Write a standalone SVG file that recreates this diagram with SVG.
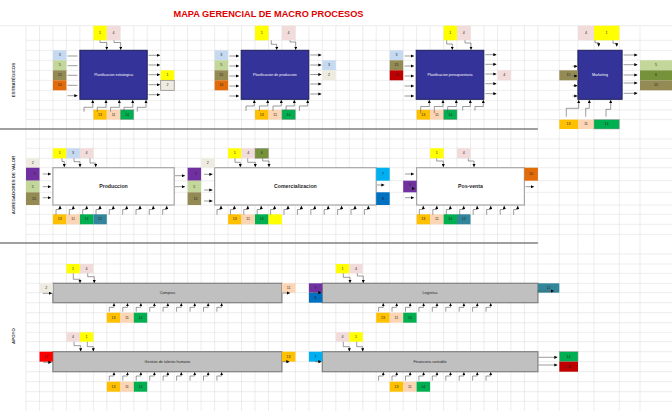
<svg xmlns="http://www.w3.org/2000/svg" width="672" height="411" viewBox="0 0 672 411">
<defs>
<style>
.gr{stroke:#dadada;stroke-width:.5;fill:none}
.sep{stroke:#7f7f7f;stroke-width:1.6}
.k1{fill:#ffff00}.k2{fill:#eeece1}.k3{fill:#c5d9f1}.k4{fill:#f2dcdb}.k5{fill:#c4d79b}.k6{fill:#76933c}.k7{fill:#00b0f0}.k8{fill:#0070c0}.k9{fill:#7030a0}.k10{fill:#e26b0a}.k11{fill:#fcd5b4}.k12{fill:#31869b}.k13{fill:#ffc000}.k14{fill:#00b050}.k15{fill:#948a54}.k16{fill:#c00000}.k17{fill:#ff0000}
.bd{stroke:#9a9a9a;stroke-width:.5}
text{font-family:"Liberation Sans",Arial,sans-serif}
.n{font-size:3.6px;fill:#262626;text-anchor:middle;dominant-baseline:central}
.cn{fill:none;stroke:#595959;stroke-width:.6;marker-end:url(#ah)}
.nv{fill:#333399;stroke:#1f1f5c;stroke-width:1}
.wh{fill:#fff;stroke:#a6a6a6;stroke-width:1.2}
.gy{fill:#c0c0c0;stroke:#808080;stroke-width:1.2}
.lw{font-size:3.6px;fill:#fff;text-anchor:middle;dominant-baseline:central}
.lk{font-size:5.2px;fill:#262626;text-anchor:middle;dominant-baseline:central;font-weight:bold}
.ls{font-size:3.8px;fill:#262626;text-anchor:middle;dominant-baseline:central}
.sec{font-size:4.4px;font-weight:bold;fill:#404040;text-anchor:middle}
.ttl{font-size:8.8px;font-weight:bold;fill:#e00000;text-anchor:middle}
</style>
<marker id="ah" viewBox="0 0 6 6" markerWidth="3.2" markerHeight="3.2" refX="6" refY="3" orient="auto" markerUnits="userSpaceOnUse"><path d="M0,0L6,3L0,6z" fill="#000"/></marker>
</defs>
<rect width="672" height="411" fill="#fff"/>
<g id="grid">
<path class="gr" d="M26,25.7V411M39.5,25.7V411M52.9,25.7V411M66.4,25.7V411M79.9,25.7V411M93.4,25.7V411M106.8,25.7V411M120.3,25.7V411M133.8,25.7V411M147.2,25.7V411M160.7,25.7V411M174.2,25.7V411M187.6,25.7V411M201.1,25.7V411M214.6,25.7V411M228.1,25.7V411M241.5,25.7V411M255,25.7V411M268.5,25.7V411M281.9,25.7V411M295.4,25.7V411M308.9,25.7V411M322.3,25.7V411M335.8,25.7V411M349.3,25.7V411M362.8,25.7V411M376.2,25.7V411M389.7,25.7V411M403.2,25.7V411M416.6,25.7V411M430.1,25.7V411M443.6,25.7V411M457,25.7V411M470.5,25.7V411M484,25.7V411M497.5,25.7V411M510.9,25.7V411M524.4,25.7V411M537.9,25.7V411M559.3,25.7V411M578,25.7V411M594,25.7V411M619.3,25.7V411M640,25.7V411"/>
<path class="gr" d="M0,25.7H672M26,40.3H672M26,50.3H672M26,60.3H672M26,70.3H672M26,80.3H672M26,90.3H672M26,100.3H672M26,109.8H672M26,119.6H672M26,139H672M26,148.3H672M26,158.3H672M26,167.7H672M26,180.7H672M26,192.3H672M26,205H672M26,214.3H672M26,224.3H672M26,234.3H672M26,254H672M26,264H672M26,273.3H672M26,283.3H672M26,292.7H672M26,302.7H672M26,312.7H672M26,322.7H672M26,332.3H672M26,341.7H672M26,351.7H672M26,361.7H672M26,371.7H672M26,381.7H672M26,391.7H672M26,401.3H672"/>
</g>
<g id="separators">
<line class="sep" x1="0" y1="129" x2="537.9" y2="129"/>
<line class="sep" x1="0" y1="243" x2="537.9" y2="243"/>
</g>
<text class="ttl" x="268.5" y="16.5" textLength="190" lengthAdjust="spacingAndGlyphs">MAPA GERENCIAL DE MACRO PROCESOS</text>
<text class="sec" transform="translate(15,80) rotate(-90)">ESTRATÉGICOS</text>
<text class="sec" transform="translate(15,185) rotate(-90)">AGREGADORES DE VALOR</text>
<text class="sec" transform="translate(15,336) rotate(-90)">APOYO</text>

<!-- Planificacion estrategica -->
<g id="p-estrategica">
<rect class="nv" x="79.9" y="50.3" width="67.3" height="49"/>
<text class="lw" x="113.6" y="75">Planificacion estrategica</text>
</g>
<g id="t-estrategica">
<rect class="k1" x="93.4" y="25.7" width="13.4" height="14.6"/><text class="n" x="100.1" y="33">1</text>
<rect class="k4" x="106.8" y="25.7" width="13.5" height="14.6"/><text class="n" x="113.5" y="33">4</text>
<rect class="k3" x="52.9" y="50.3" width="13.5" height="10"/><text class="n" x="59.7" y="55.3">3</text>
<rect class="k5" x="52.9" y="60.3" width="13.5" height="10"/><text class="n" x="59.7" y="65.3">5</text>
<rect class="k15" x="52.9" y="70.3" width="13.5" height="10"/><text class="n" x="59.7" y="75.3">15</text>
<rect class="k10" x="52.9" y="80.3" width="13.5" height="10"/><text class="n" x="59.7" y="85.3">10</text>
<rect class="k1" x="160.7" y="70.3" width="13.5" height="10"/><text class="n" x="167.4" y="75.3">1</text>
<rect class="k2" x="160.7" y="80.3" width="13.5" height="10" stroke="#808080" stroke-width=".7"/><text class="n" x="167.4" y="85.3">2</text>
<rect class="k13" x="93.4" y="109.8" width="13.4" height="9.8"/><text class="n" x="100.1" y="114.7">13</text>
<rect class="k11" x="106.8" y="109.8" width="13.5" height="9.8"/><text class="n" x="113.5" y="114.7">11</text>
<rect class="k14 bd" x="120.3" y="109.8" width="13.5" height="9.8"/><text class="n" x="127" y="114.7">14</text>
</g>

<!-- Planificacion de produccion -->
<g id="p-plan-produccion">
<rect class="nv" x="241.2" y="50.3" width="67.6" height="49"/>
<text class="lw" x="275" y="75">Planificacion de produccion</text>
</g>
<g id="t-plan-produccion">
<rect class="k1" x="255" y="25.7" width="13.5" height="14.6"/><text class="n" x="261.7" y="33">1</text>
<rect class="k4" x="281.9" y="25.7" width="13.5" height="14.6"/><text class="n" x="288.6" y="33">4</text>
<rect class="k3" x="214.6" y="50.3" width="13.5" height="10"/><text class="n" x="221.3" y="55.3">3</text>
<rect class="k5" x="214.6" y="60.3" width="13.5" height="10"/><text class="n" x="221.3" y="65.3">5</text>
<rect class="k15" x="214.6" y="70.3" width="13.5" height="10"/><text class="n" x="221.3" y="75.3">15</text>
<rect class="k10" x="214.6" y="80.3" width="13.5" height="10"/><text class="n" x="221.3" y="85.3">10</text>
<rect class="k3" x="322.3" y="60.3" width="13.5" height="10"/><text class="n" x="329" y="65.3">3</text>
<rect class="k2" x="322.3" y="70.3" width="13.5" height="10"/><text class="n" x="329" y="75.3">2</text>
<rect class="k13" x="255" y="109.8" width="13.5" height="9.8"/><text class="n" x="261.7" y="114.7">13</text>
<rect class="k11" x="268.5" y="109.8" width="13.4" height="9.8"/><text class="n" x="275.2" y="114.7">11</text>
<rect class="k14 bd" x="281.9" y="109.8" width="13.5" height="9.8"/><text class="n" x="288.6" y="114.7">14</text>
</g>

<!-- Planificacion presupuestaria -->
<g id="p-presupuestaria">
<rect class="nv" x="416.2" y="50.3" width="67.6" height="49"/>
<text class="lw" x="450" y="75">Planificacion presupuestaria</text>
</g>
<g id="t-presupuestaria">
<rect class="k1" x="443.6" y="25.7" width="13.4" height="14.6"/><text class="n" x="450.3" y="33">1</text>
<rect class="k4" x="457" y="25.7" width="13.5" height="14.6"/><text class="n" x="463.7" y="33">4</text>
<rect class="k3" x="389.7" y="50.3" width="13.5" height="10"/><text class="n" x="396.4" y="55.3">3</text>
<rect class="k15" x="389.7" y="60.3" width="13.5" height="10"/><text class="n" x="396.4" y="65.3">15</text>
<rect class="k16" x="389.7" y="70.3" width="13.5" height="10"/><text class="n" x="396.4" y="75.3">16</text>
<rect class="k4" x="497.5" y="70.3" width="13.4" height="10"/><text class="n" x="504.2" y="75.3">4</text>
<rect class="k13" x="416.6" y="109.8" width="13.5" height="9.8"/><text class="n" x="423.3" y="114.7">13</text>
<rect class="k11" x="430.1" y="109.8" width="13.5" height="9.8"/><text class="n" x="436.8" y="114.7">11</text>
<rect class="k14 bd" x="443.6" y="109.8" width="13.4" height="9.8"/><text class="n" x="450.3" y="114.7">14</text>
</g>

<!-- Marketing -->
<g id="p-marketing">
<rect class="nv" x="577.9" y="50.3" width="44.2" height="49"/>
<text class="lw" x="600" y="75">Marketing</text>
</g>
<g id="t-marketing">
<rect class="k4" x="578" y="25.7" width="16" height="14.6"/><text class="n" x="586" y="33">4</text>
<rect class="k1" x="594" y="25.7" width="25.3" height="14.6"/><text class="n" x="606.6" y="33">1</text>
<rect class="k15" x="559.3" y="70.3" width="18.7" height="10"/><text class="n" x="568.6" y="75.3">15</text>
<rect class="k5" x="640" y="60.3" width="32" height="10"/><text class="n" x="656" y="65.3">5</text>
<rect class="k6" x="640" y="70.3" width="32" height="10"/><text class="n" x="656" y="75.3">6</text>
<rect class="k15" x="640" y="80.3" width="32" height="10"/><text class="n" x="656" y="85.3">15</text>
<rect class="k13" x="559.3" y="119.6" width="18.7" height="9.4"/><text class="n" x="568.6" y="124.3">13</text>
<rect class="k11" x="578" y="119.6" width="16" height="9.4"/><text class="n" x="586" y="124.3">11</text>
<rect class="k14 bd" x="594" y="119.6" width="25.3" height="9.4"/><text class="n" x="606.6" y="124.3">14</text>
</g>

<!-- Produccion -->
<g id="p-produccion">
<rect class="wh" x="52.9" y="167.7" width="121.3" height="37.3"/>
<text class="lk" x="113.5" y="186.3">Produccion</text>
</g>
<g id="t-produccion">
<rect class="k1" x="52.9" y="148.3" width="13.5" height="10"/><text class="n" x="59.7" y="153.3">1</text>
<rect class="k3" x="66.4" y="148.3" width="13.5" height="10"/><text class="n" x="73.1" y="153.3">3</text>
<rect class="k4" x="79.9" y="148.3" width="13.5" height="10"/><text class="n" x="86.6" y="153.3">4</text>
<rect class="k2" x="26" y="158.3" width="13.5" height="9.4"/><text class="n" x="32.7" y="163">2</text>
<rect class="k9" x="26" y="167.7" width="13.5" height="13"/><text class="n" x="34.5" y="174.2">9</text>
<rect class="k5" x="26" y="180.7" width="13.5" height="11.6"/><text class="n" x="32.7" y="186.5">5</text>
<rect class="k15" x="26" y="192.3" width="13.5" height="12.7"/><text class="n" x="34" y="198.6">15</text>
<rect class="k13" x="52.9" y="214.3" width="13.5" height="10"/><text class="n" x="59.7" y="219.3">13</text>
<rect class="k11" x="66.4" y="214.3" width="13.5" height="10"/><text class="n" x="73.1" y="219.3">11</text>
<rect class="k14" x="79.9" y="214.3" width="13.5" height="10"/><text class="n" x="86.6" y="219.3">14</text>
<rect class="k12" x="93.4" y="214.3" width="13.4" height="10"/><text class="n" x="100.1" y="219.3">12</text>
</g>

<!-- Comercializacion -->
<g id="p-comercializacion">
<rect class="wh" x="214.6" y="167.7" width="161.6" height="37.3"/>
<text class="lk" x="295.4" y="186.3">Comercializacion</text>
</g>
<g id="t-comercializacion">
<rect class="k1" x="228.1" y="148.3" width="13.4" height="10"/><text class="n" x="234.8" y="153.3">1</text>
<rect class="k4" x="241.5" y="148.3" width="13.5" height="10"/><text class="n" x="248.2" y="153.3">4</text>
<rect class="k6 bd" x="255" y="148.3" width="13.5" height="10"/><text class="n" x="261.7" y="153.3">6</text>
<rect class="k2" x="201.1" y="158.3" width="13.5" height="9.4"/><text class="n" x="207.8" y="163">2</text>
<rect class="k9" x="187.6" y="167.7" width="13.5" height="13"/><text class="n" x="196" y="174.2">9</text>
<rect class="k5" x="187.6" y="180.7" width="13.5" height="11.6"/><text class="n" x="194.3" y="186.5">5</text>
<rect class="k15" x="187.6" y="192.3" width="13.5" height="12.7"/><text class="n" x="195.5" y="198.6">15</text>
<rect class="k7" x="376.2" y="167.7" width="13.5" height="13"/><text class="n" x="382.9" y="174.2">7</text>
<rect class="k8" x="376.2" y="192.3" width="13.5" height="12.7"/><text class="n" x="382.9" y="198.6">8</text>
<rect class="k13" x="228.1" y="214.3" width="13.4" height="10"/><text class="n" x="234.8" y="219.3">13</text>
<rect class="k11" x="241.5" y="214.3" width="13.5" height="10"/><text class="n" x="248.2" y="219.3">11</text>
<rect class="k14" x="255" y="214.3" width="13.5" height="10"/><text class="n" x="261.7" y="219.3">14</text>
<rect class="k1" x="268.5" y="214.3" width="13.4" height="10"/>
</g>

<!-- Pos-venta -->
<g id="p-posventa">
<rect class="wh" x="416.6" y="167.7" width="107.8" height="37.3"/>
<text class="lk" x="470.5" y="186.3">Pos-venta</text>
</g>
<g id="t-posventa">
<rect class="k1" x="430.1" y="148.3" width="13.5" height="10"/><text class="n" x="436.8" y="153.3">1</text>
<rect class="k4" x="457" y="148.3" width="13.5" height="10"/><text class="n" x="463.7" y="153.3">4</text>
<rect class="k9" x="403.2" y="180.7" width="13.4" height="11.6"/><text class="n" x="409.9" y="184.5">9</text>
<rect class="k10" x="524.4" y="167.7" width="13.5" height="13"/><text class="n" x="531.1" y="174.2">10</text>
<rect class="k13" x="416.6" y="214.3" width="13.5" height="10"/><text class="n" x="423.3" y="219.3">13</text>
<rect class="k11" x="430.1" y="214.3" width="13.5" height="10"/><text class="n" x="436.8" y="219.3">11</text>
<rect class="k14" x="443.6" y="214.3" width="13.4" height="10"/><text class="n" x="450.3" y="219.3">14</text>
<rect class="k12" x="457" y="214.3" width="13.5" height="10"/><text class="n" x="463.7" y="219.3">12</text>
</g>

<!-- Compras -->
<g id="p-compras">
<rect class="gy" x="52.9" y="283.3" width="229" height="19.4"/>
<text class="ls" x="167.4" y="293">Compras</text>
</g>
<g id="t-compras">
<rect class="k1" x="66.4" y="264" width="13.5" height="9.3"/><text class="n" x="73.1" y="268.6">1</text>
<rect class="k4" x="79.9" y="264" width="13.5" height="9.3"/><text class="n" x="86.6" y="268.6">4</text>
<rect class="k2" x="39.5" y="283.3" width="13.4" height="9.4"/><text class="n" x="46.2" y="288">2</text>
<rect class="k11" x="281.9" y="283.3" width="13.5" height="9.4"/><text class="n" x="288.6" y="288">11</text>
<rect class="k13" x="106.8" y="312.7" width="13.5" height="10"/><text class="n" x="113.5" y="317.7">13</text>
<rect class="k11" x="120.3" y="312.7" width="13.5" height="10"/><text class="n" x="127" y="317.7">11</text>
<rect class="k14" x="133.8" y="312.7" width="13.4" height="10"/><text class="n" x="140.5" y="317.7">14</text>
</g>

<!-- Logistica -->
<g id="p-logistica">
<rect class="gy" x="322.3" y="283.3" width="215.6" height="19.4"/>
<text class="ls" x="430" y="293">Logistica</text>
</g>
<g id="t-logistica">
<rect class="k1" x="335.8" y="264" width="13.5" height="9.3"/><text class="n" x="342.5" y="268.6">1</text>
<rect class="k4" x="349.3" y="264" width="13.5" height="9.3"/><text class="n" x="356" y="268.6">4</text>
<rect class="k9" x="308.9" y="283.3" width="13.4" height="9.4"/><text class="n" x="315.6" y="288">9</text>
<rect class="k8" x="308.9" y="292.7" width="13.4" height="10"/><text class="n" x="315.6" y="297.7">8</text>
<rect class="k12" x="537.9" y="283.3" width="21.4" height="9.4"/><text class="n" x="548.6" y="288">12</text>
<rect class="k13" x="376.2" y="312.7" width="13.5" height="10"/><text class="n" x="382.9" y="317.7">13</text>
<rect class="k11" x="389.7" y="312.7" width="13.5" height="10"/><text class="n" x="396.4" y="317.7">11</text>
<rect class="k14" x="403.2" y="312.7" width="13.4" height="10"/><text class="n" x="409.9" y="317.7">14</text>
</g>

<!-- Gestion de talento humano -->
<g id="p-talento">
<rect class="gy" x="52.9" y="351.7" width="229" height="20"/>
<text class="ls" x="167.4" y="361.7">Gestion de talento humano</text>
</g>
<g id="t-talento">
<rect class="k4" x="66.4" y="332.3" width="13.5" height="9.4"/><text class="n" x="73.1" y="337">4</text>
<rect class="k1" x="79.9" y="332.3" width="13.5" height="9.4"/><text class="n" x="86.6" y="337">1</text>
<rect class="k17" x="39.5" y="351.7" width="13.4" height="10"/><text class="n" x="46.2" y="356.7">17</text>
<rect class="k13" x="281.9" y="351.7" width="13.5" height="10"/><text class="n" x="288.6" y="356.7">13</text>
<rect class="k13" x="106.8" y="381.7" width="13.5" height="10"/><text class="n" x="113.5" y="386.7">13</text>
<rect class="k11" x="120.3" y="381.7" width="13.5" height="10"/><text class="n" x="127" y="386.7">11</text>
<rect class="k14" x="133.8" y="381.7" width="13.4" height="10"/><text class="n" x="140.5" y="386.7">14</text>
</g>

<!-- Financiera contable -->
<g id="p-financiera">
<rect class="gy" x="322.3" y="351.7" width="215.6" height="20"/>
<text class="ls" x="430" y="361.7">Financiera contable</text>
</g>
<g id="t-financiera">
<rect class="k4" x="335.8" y="332.3" width="13.5" height="9.4"/><text class="n" x="342.5" y="337">4</text>
<rect class="k1" x="349.3" y="332.3" width="13.5" height="9.4"/><text class="n" x="356" y="337">1</text>
<rect class="k7" x="308.9" y="351.7" width="13.4" height="10"/><text class="n" x="315.6" y="356.7">7</text>
<rect class="k14 bd" x="559.3" y="351.7" width="18.7" height="10"/><text class="n" x="568.6" y="356.7">14</text>
<rect class="k16" x="559.3" y="361.7" width="18.7" height="10"/><text class="n" x="568.6" y="366.7">16</text>
<rect class="k13" x="389.7" y="381.7" width="13.5" height="10"/><text class="n" x="396.4" y="386.7">13</text>
<rect class="k11" x="403.2" y="381.7" width="13.4" height="10"/><text class="n" x="409.9" y="386.7">11</text>
<rect class="k14" x="416.6" y="381.7" width="13.5" height="10"/><text class="n" x="423.3" y="386.7">14</text>
</g>

<g id="connectors">
<!-- Planificacion estrategica -->
<path class="cn" d="M100,40.3V42.5H106.7V49.8"/>
<path class="cn" d="M114,40.3V42.5H120.7V49.8"/>
<path class="cn" d="M67.5,56H77.5M67.5,65.7H77.5M67.5,75.3H77.5M67.5,85.3H77.5M67.5,95.7H77.5"/>
<path class="cn" d="M148.5,55.3H160"/><path class="cn" d="M148.5,65H160"/><path class="cn" d="M148.5,74.7H160"/><path class="cn" d="M148.5,84.7H160"/><path class="cn" d="M148.5,94.7H160"/>
<path class="cn" d="M84,111.7V107.3H92.7V100"/><path class="cn" d="M97.3,111.7V107.3H106V100"/><path class="cn" d="M110.6,111.7V107.3H119.3V100"/><path class="cn" d="M124,111.7V107.3H132.7V100"/><path class="cn" d="M137.3,111.7V107.3H146V100"/>
<!-- Planificacion de produccion -->
<path class="cn" d="M271.3,40.3V44.3H276.7V49.8"/>
<path class="cn" d="M290,40.3V42H295.7V49.8"/>
<path class="cn" d="M229.3,56H239"/><path class="cn" d="M229.3,66H239"/><path class="cn" d="M229.3,76H239"/><path class="cn" d="M229.3,86H239"/><path class="cn" d="M229.3,96H239"/>
<path class="cn" d="M310.3,55H321.5"/><path class="cn" d="M310.3,65H321.5"/><path class="cn" d="M310.3,74.5H321.5"/><path class="cn" d="M310.3,84H321.5"/><path class="cn" d="M310.3,94H321.5"/>
<path class="cn" d="M246,111V106H254.3V100"/><path class="cn" d="M259.4,111V106H267.7V100"/><path class="cn" d="M273,111V106H281.3V100"/><path class="cn" d="M286,111V106H294.3V100"/><path class="cn" d="M299.4,111V106H307.7V100"/>
<!-- Planificacion presupuestaria -->
<path class="cn" d="M446.7,40.3V44H452.3V49.8"/>
<path class="cn" d="M465,40.3V43H471V49.8"/>
<path class="cn" d="M404.5,56H414"/><path class="cn" d="M404.5,66H414"/><path class="cn" d="M404.5,76H414"/><path class="cn" d="M404.5,86H414"/><path class="cn" d="M404.5,96H414"/>
<path class="cn" d="M485.3,54.7H496.5"/><path class="cn" d="M485.3,64.3H496.5"/><path class="cn" d="M485.3,74H496.5"/><path class="cn" d="M485.3,83.7H496.5"/><path class="cn" d="M485.3,93.7H496.5"/>
<path class="cn" d="M420.7,113V106.5H429.3V100"/><path class="cn" d="M434.3,113V106.5H443V100"/><path class="cn" d="M447.7,113V106.5H456.3V100"/><path class="cn" d="M462.7,110.5V106.5H470.3V100"/><path class="cn" d="M475,110.5V106.5H483.3V100"/>
<!-- Marketing -->
<path class="cn" d="M595,40.3V42.7H598.7V46.5"/>
<path class="cn" d="M613,40.3V43.3H616.7V46.5"/>
<path class="cn" d="M572.5,66.3H577.5"/><path class="cn" d="M572.5,76H577.5"/><path class="cn" d="M572.5,85.7H577.5"/><path class="cn" d="M572.5,96H577.5"/>
<path class="cn" d="M623.5,55H637.5"/><path class="cn" d="M623.5,64.7H637.5"/><path class="cn" d="M623.5,75H637.5"/><path class="cn" d="M623.5,83H637.5"/><path class="cn" d="M623.5,93.3H637.5"/>
<path class="cn" d="M566.3,116.7V108.3H578.7V100"/><path class="cn" d="M585.7,116.7V108.3H589.3V100"/><path class="cn" d="M606,116.7V109.3H610.7V100"/>
<!-- Produccion -->
<path class="cn" d="M62,158.3V161.5H64.3V167"/>
<path class="cn" d="M74,158.3V161.7H80V167"/>
<path class="cn" d="M90,158.3V163H95.7V167"/>
<path class="cn" d="M42.7,174H51"/><path class="cn" d="M42.7,186.7H51"/><path class="cn" d="M42.7,197.7H51"/>
<path class="cn" d="M175,175.7H185"/><path class="cn" d="M175,186.7H185"/>
<path class="cn" d="M56,214.8V209.5H60V205.8"/><path class="cn" d="M69.3,214.8V209.5H73.3V205.8"/><path class="cn" d="M82.7,214.8V209.5H86.7V205.8"/><path class="cn" d="M96,214.8V209.5H100V205.8"/><path class="cn" d="M109.3,214.8V209.5H113.3V205.8"/><path class="cn" d="M122.7,214.8V209.5H126.7V205.8"/><path class="cn" d="M136,214.8V209.5H140V205.8"/><path class="cn" d="M149.3,214.8V209.5H153.3V205.8"/><path class="cn" d="M162.7,214.8V209.5H166.7V205.8"/>
<!-- Comercializacion -->
<path class="cn" d="M235,158.3V162.3H240.3V167"/>
<path class="cn" d="M247.7,158.3V162.3H255.3V167"/>
<path class="cn" d="M262.7,158.3V161H269V167"/>
<path class="cn" d="M204,174.3H212.5"/><path class="cn" d="M204,190H212.5"/><path class="cn" d="M204,201H212.5"/>
<path class="cn" d="M377,185H384.5"/>
<path class="cn" d="M217,214.8V209.5H221V205.8"/><path class="cn" d="M230.4,214.8V209.5H234.4V205.8"/><path class="cn" d="M243.8,214.8V209.5H247.8V205.8"/><path class="cn" d="M257.2,214.8V209.5H261.2V205.8"/><path class="cn" d="M270.6,214.8V209.5H274.6V205.8"/><path class="cn" d="M284,214.8V209.5H288V205.8"/><path class="cn" d="M297.4,214.8V209.5H301.4V205.8"/><path class="cn" d="M310.8,214.8V209.5H314.8V205.8"/><path class="cn" d="M324.2,214.8V209.5H328.2V205.8"/><path class="cn" d="M337.6,214.8V209.5H341.6V205.8"/><path class="cn" d="M351,214.8V209.5H355V205.8"/><path class="cn" d="M364.4,214.8V209.5H368.4V205.8"/>
<!-- Pos-venta -->
<path class="cn" d="M436.7,158.3V161H443.3V167"/>
<path class="cn" d="M468.3,158.3V161H474V167"/>
<path class="cn" d="M405,174H414"/><path class="cn" d="M409,188.5H415"/><path class="cn" d="M405,197.7H414"/>
<path class="cn" d="M525.5,186.7H534"/>
<path class="cn" d="M419.3,214.8V209.5H423.3V205.8"/><path class="cn" d="M432.8,214.8V209.5H436.8V205.8"/><path class="cn" d="M446.3,214.8V209.5H450.3V205.8"/><path class="cn" d="M459.7,214.8V209.5H463.7V205.8"/><path class="cn" d="M473.2,214.8V209.5H477.2V205.8"/><path class="cn" d="M486.7,214.8V209.5H490.7V205.8"/><path class="cn" d="M500.2,214.8V209.5H504.2V205.8"/><path class="cn" d="M513.7,214.8V209.5H517.7V205.8"/>
<!-- Compras -->
<path class="cn" d="M73.3,273.3V279.3H80V283"/>
<path class="cn" d="M87.7,273.3V276.7H94.3V283"/>
<path class="cn" d="M42.7,293.3H52"/>
<path class="cn" d="M282.5,293H290"/>
<path class="cn" d="M109.3,311.7V307.3H114V303.2"/><path class="cn" d="M122.8,311.7V307.3H127.5V303.2"/><path class="cn" d="M136.2,311.7V307.3H140.9V303.2"/><path class="cn" d="M149.7,311.7V307.3H154.4V303.2"/><path class="cn" d="M163.1,311.7V307.3H167.8V303.2"/><path class="cn" d="M176.6,311.7V307.3H181.3V303.2"/><path class="cn" d="M190,311.7V307.3H194.7V303.2"/><path class="cn" d="M203.5,311.7V307.3H208.2V303.2"/><path class="cn" d="M216.9,311.7V307.3H221.6V303.2"/>
<!-- Logistica -->
<path class="cn" d="M343.3,273.3V277.3H350V283"/>
<path class="cn" d="M357.3,273.3V276H363.3V283"/>
<path class="cn" d="M313.3,292.7H321.5"/>
<path class="cn" d="M537.5,291H554"/>
<path class="cn" d="M378.6,311.7V307.3H383.3V303.2"/><path class="cn" d="M392,311.7V307.3H396.7V303.2"/><path class="cn" d="M405.5,311.7V307.3H410.2V303.2"/><path class="cn" d="M418.9,311.7V307.3H423.6V303.2"/><path class="cn" d="M432.3,311.7V307.3H437V303.2"/><path class="cn" d="M445.8,311.7V307.3H450.5V303.2"/><path class="cn" d="M459.2,311.7V307.3H463.9V303.2"/><path class="cn" d="M472.6,311.7V307.3H477.3V303.2"/><path class="cn" d="M486,311.7V307.3H490.7V303.2"/>
<!-- Gestion de talento humano -->
<path class="cn" d="M74,341.7V345.7H80.7V351.4"/>
<path class="cn" d="M87.3,341.7V346.7H93.3V351.4"/>
<path class="cn" d="M43.3,362.3H51.5"/>
<path class="cn" d="M282.5,361.7H289.5"/>
<path class="cn" d="M109.3,380.7V376H114V372.2"/><path class="cn" d="M122.8,380.7V376H127.5V372.2"/><path class="cn" d="M136.2,380.7V376H140.9V372.2"/><path class="cn" d="M149.7,380.7V376H154.4V372.2"/><path class="cn" d="M163.1,380.7V376H167.8V372.2"/><path class="cn" d="M176.6,380.7V376H181.3V372.2"/><path class="cn" d="M190,380.7V376H194.7V372.2"/><path class="cn" d="M203.5,380.7V376H208.2V372.2"/><path class="cn" d="M216.9,380.7V376H221.6V372.2"/>
<!-- Financiera contable -->
<path class="cn" d="M343.3,341.7V346.7H349.3V351.4"/>
<path class="cn" d="M356.7,341.7V346.7H362.7V351.4"/>
<path class="cn" d="M315,361.7H321.5"/>
<path class="cn" d="M538.5,357.3H557.5"/><path class="cn" d="M538.5,365H557.5"/>
<path class="cn" d="M378.6,380.7V376H383.3V372.2"/><path class="cn" d="M392,380.7V376H396.7V372.2"/><path class="cn" d="M405.5,380.7V376H410.2V372.2"/><path class="cn" d="M418.9,380.7V376H423.6V372.2"/><path class="cn" d="M432.3,380.7V376H437V372.2"/><path class="cn" d="M445.8,380.7V376H450.5V372.2"/><path class="cn" d="M459.2,380.7V376H463.9V372.2"/><path class="cn" d="M472.6,380.7V376H477.3V372.2"/><path class="cn" d="M486,380.7V376H490.7V372.2"/>
</g>
</svg>
